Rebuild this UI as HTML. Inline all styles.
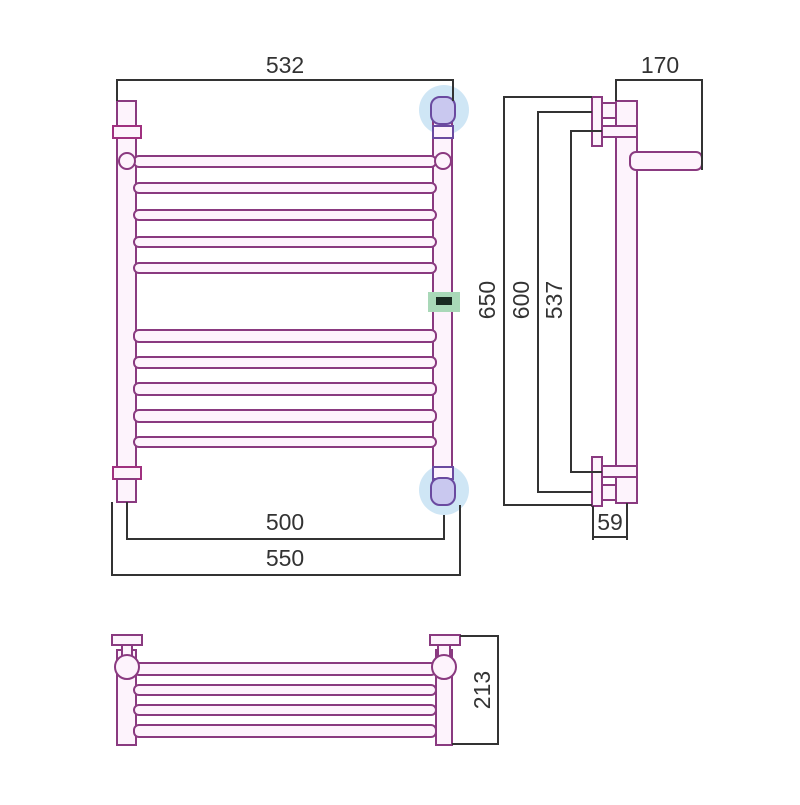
<!DOCTYPE html>
<html><head><meta charset="utf-8"><style>html,body{margin:0;padding:0;background:#fff}</style></head>
<body>
<svg width="800" height="800" viewBox="0 0 800 800" xmlns="http://www.w3.org/2000/svg" font-family="Liberation Sans, sans-serif" font-size="23" fill="#333">
<rect width="800" height="800" fill="#fff"/>
<circle cx="444" cy="110" r="25" fill="#cfe6f5"/>
<circle cx="444" cy="490" r="25" fill="#cfe6f5"/>
<g stroke="#8a3a80" stroke-width="2" fill="#fdf3fc">
<rect x="117" y="101" width="19" height="401"/>
<rect x="433" y="120" width="19" height="360"/>
<rect x="134" y="156" width="302" height="11" rx="5"/>
<rect x="134" y="183" width="302" height="10" rx="5"/>
<rect x="134" y="210" width="302" height="10" rx="5"/>
<rect x="134" y="237" width="302" height="10" rx="5"/>
<rect x="134" y="263" width="302" height="10" rx="5"/>
<rect x="134" y="330" width="302" height="12" rx="5"/>
<rect x="134" y="357" width="302" height="11" rx="5"/>
<rect x="134" y="383" width="302" height="12" rx="5"/>
<rect x="134" y="410" width="302" height="12" rx="5"/>
<rect x="134" y="437" width="302" height="10" rx="5"/>
<circle cx="127" cy="161" r="8"/>
<circle cx="443" cy="161" r="8"/>
<rect x="113" y="126" width="28" height="12" stroke="#a0307f"/>
<rect x="113" y="467" width="28" height="12" stroke="#a0307f"/>
<rect x="117" y="479" width="19" height="23"/>
<rect x="433" y="126" width="20" height="12" stroke="#6a4aa0"/>
<rect x="433" y="467" width="20" height="12" stroke="#6a4aa0"/>
<rect x="431" y="97" width="24" height="27" rx="9" stroke="#6a4aa0" fill="#c9c8ef"/>
<rect x="431" y="478" width="24" height="27" rx="9" stroke="#6a4aa0" fill="#c9c8ef"/>
<rect x="616" y="101" width="21" height="402"/>
<rect x="630" y="152" width="72" height="18" rx="6"/>
<rect x="592" y="97" width="10" height="49"/>
<rect x="602" y="103" width="14" height="15"/>
<rect x="602" y="126" width="35" height="11"/>
<rect x="592" y="457" width="10" height="49"/>
<rect x="602" y="485" width="14" height="15"/>
<rect x="602" y="466" width="35" height="11"/>
<rect x="117" y="650" width="19" height="95"/>
<rect x="436" y="650" width="16" height="95"/>
<rect x="134" y="663" width="302" height="12" rx="5"/>
<rect x="134" y="685" width="302" height="10" rx="5"/>
<rect x="134" y="705" width="302" height="10" rx="5"/>
<rect x="134" y="725" width="302" height="12" rx="5"/>
<rect x="112" y="635" width="30" height="10"/>
<rect x="122" y="645" width="10" height="12"/>
<rect x="430" y="635" width="30" height="10"/>
<rect x="438" y="645" width="12" height="12"/>
<circle cx="127" cy="667" r="12"/>
<circle cx="444" cy="667" r="12"/>
</g>
<rect x="428" y="292" width="32" height="20" fill="#a9d8b8"/>
<rect x="436" y="297" width="16" height="8" fill="#1a2a22"/>
<g stroke="#333" stroke-width="2" fill="none">
<path d="M117 101V80H453V101"/>
<path d="M127 502V539H444V515"/>
<path d="M112 502V575H460V505"/>
<path d="M616 101V80H702V170"/>
<path d="M592 97H504V505H592"/>
<path d="M592 112H538V492H592"/>
<path d="M602 131H571V472H602"/>
<path d="M593 506V540M627 503V540M593 537H627"/>
<path d="M460 636H498V744H452"/>
</g>
<g text-anchor="middle">
<text x="285" y="73">532</text>
<text x="285" y="530">500</text>
<text x="285" y="566">550</text>
<text x="660" y="73">170</text>
<text x="610" y="530">59</text>
<text transform="translate(495 300) rotate(-90)">650</text>
<text transform="translate(529 300) rotate(-90)">600</text>
<text transform="translate(562 300) rotate(-90)">537</text>
<text transform="translate(490 690) rotate(-90)">213</text>
</g>
</svg>
</body></html>
